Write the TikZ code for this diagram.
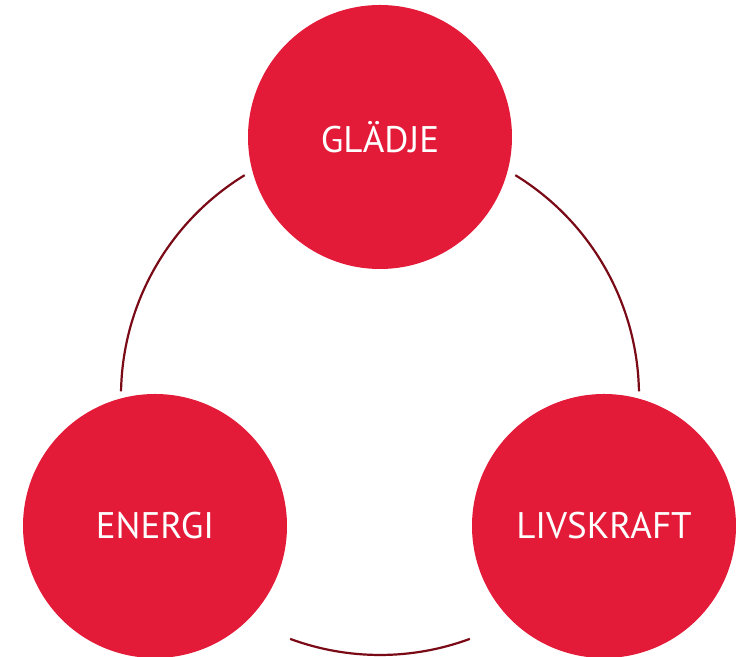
\documentclass[tikz,border=0pt]{standalone}
\usepackage{fontspec}
\setmainfont{PT Sans}
\definecolor{bubblered}{HTML}{E31A38}
\definecolor{linkred}{HTML}{7A0A16}
\begin{document}
\begin{tikzpicture}[x=0.5pt,y=0.5pt,
  bubble/.style={circle,fill=bubblered,minimum size=132pt,inner sep=0pt,text=white,font=\fontsize{18.5}{20}\selectfont},
  link/.style={draw=linkred,line width=1.1pt}]
\useasboundingbox (0,0) rectangle (736,657);
\coordinate (mid) at (380,261);
\node[bubble] (gladje) at (380,520) {GLÄDJE};
\node[bubble] (energi) at (155,131) {ENERGI};
\node[bubble] (livskraft) at (604,131) {LIVSKRAFT};
% arcs between the bubbles
\draw[link] ([shift={(121.5:259)}]mid) arc[start angle=121.5,end angle=179,radius=259];
\draw[link] ([shift={(58.5:259)}]mid) arc[start angle=58.5,end angle=1,radius=259];
\draw[link] ([shift={(249.7:259)}]mid) arc[start angle=249.7,end angle=290.3,radius=259];
\end{tikzpicture}
\end{document}
